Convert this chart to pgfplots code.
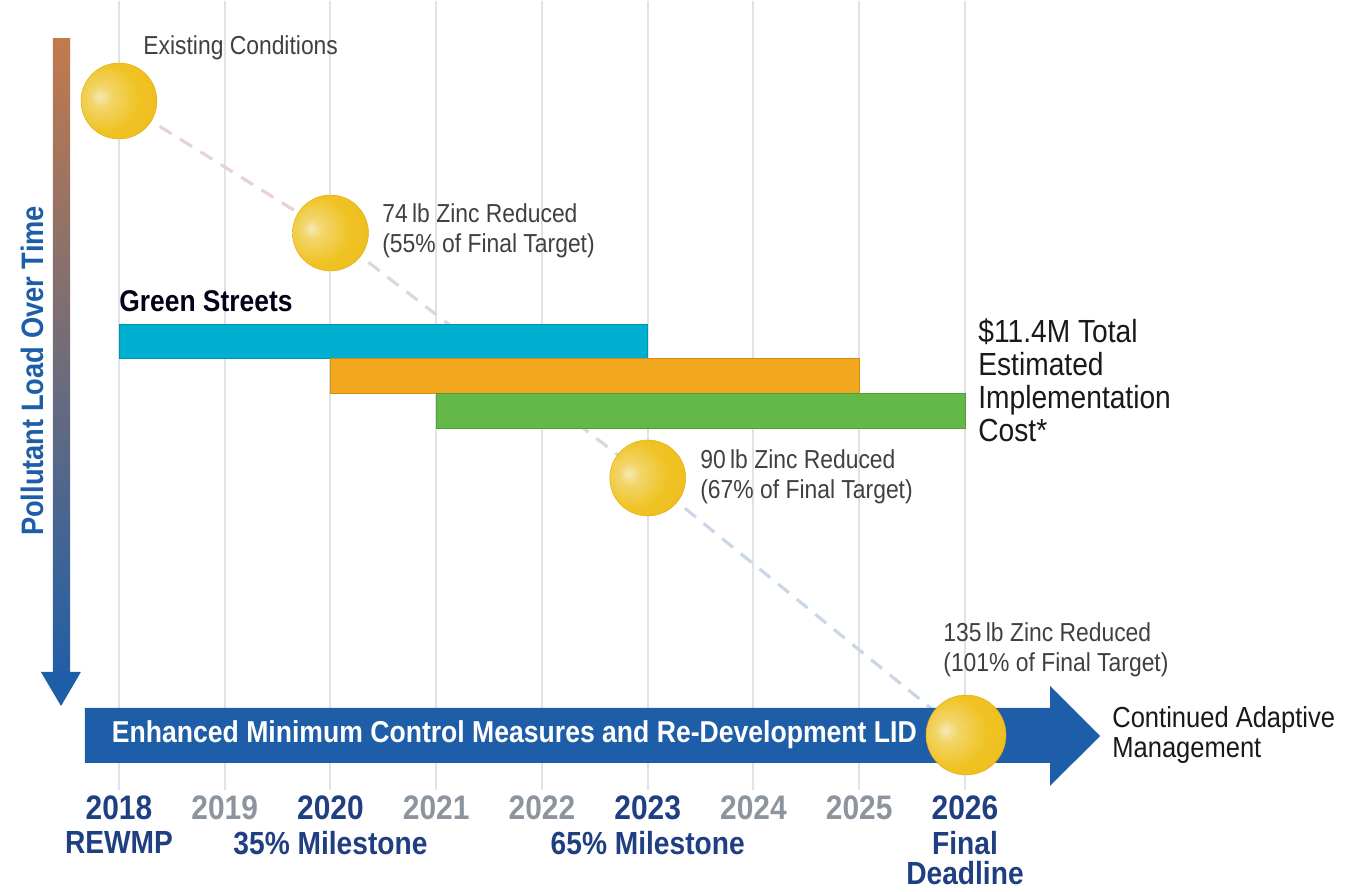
\documentclass[border=0pt]{standalone}
\usepackage{fontspec}
\setmainfont{Liberation Sans}[FakeStretch=0.88]
\usepackage{pgfplots}
\pgfplotsset{compat=1.18}

\definecolor{gridc}{HTML}{DFE2E7}
\definecolor{barcyan}{HTML}{00AFD0}
\definecolor{barorange}{HTML}{F2A81E}
\definecolor{bargreen}{HTML}{63B847}
\definecolor{arrowblue}{HTML}{1E5EA8}
\definecolor{topbrown}{HTML}{C27A4C}
\definecolor{navy}{HTML}{1F3F82}
\definecolor{yeargray}{HTML}{8C959D}
\definecolor{notec}{HTML}{404040}
\definecolor{dash1}{HTML}{E8D3D4}
\definecolor{dash2}{HTML}{D8D9DD}
\definecolor{dash3}{HTML}{CAD7E7}
\definecolor{ballhi}{HTML}{F6E9B8}
\definecolor{ballsoft}{HTML}{F2D56A}
\definecolor{ballmid}{HTML}{F0C324}
\definecolor{balledge}{HTML}{E2A806}

\pgfdeclareradialshading{zball}{\pgfpoint{-13bp}{3bp}}{color(0bp)=(ballhi); color(7bp)=(ballsoft); color(22bp)=(ballmid); color(50bp)=(ballmid!55!balledge); color(64bp)=(balledge); color(80bp)=(balledge)}
\pgfdeclareplotmark{zball}{%
  \pgfpathcircle{\pgfpointorigin}{\pgfplotmarksize}%
  \pgfshadepath{zball}{0}%
  \pgfusepath{stroke}}

\newcommand{\notefont}{\fontsize{13}{15}\selectfont}
\newcommand{\yearfont}{\fontsize{17}{18}\selectfont\bfseries}

\begin{document}
\begin{tikzpicture}
\begin{axis}[
  width=680.5pt, height=444.5pt, scale only axis,
  xmin=2016.875, xmax=2029.745, ymin=0, ymax=889,
  hide axis, clip=false,
]
\path (rel axis cs:0,0) rectangle (rel axis cs:1,1);

% year grid
\pgfplotsinvokeforeach{2018,...,2026}{
  \addplot[gridc, line width=1pt] coordinates {(#1,100) (#1,889)};
}

% pollutant load trend (dashed)
\addplot[dash1, line width=1.6pt, dash pattern=on 7pt off 5pt] coordinates {(2018,789) (2020,657)};
\addplot[dash2, line width=1.6pt, dash pattern=on 7pt off 5pt] coordinates {(2020,657) (2023,412)};
\addplot[dash3, line width=1.6pt, dash pattern=on 7pt off 5pt] coordinates {(2023,412) (2026,154)};

% program bars
\addplot[fill=barcyan, draw=barcyan!85!black, line width=0.3pt] coordinates {(2018,532) (2023,532) (2023,566) (2018,566)} -- cycle;
\addplot[fill=barorange, draw=barorange!85!black, line width=0.3pt] coordinates {(2020,497) (2025,497) (2025,532) (2020,532)} -- cycle;
\addplot[fill=bargreen, draw=bargreen!85!black, line width=0.3pt] coordinates {(2021,462) (2026,462) (2026,497) (2021,497)} -- cycle;

% left arrow
\shade[top color=topbrown, bottom color=arrowblue] (axis cs:2017.376,205) rectangle (axis cs:2017.537,851);
\fill[arrowblue] (axis cs:2017.262,218) -- (axis cs:2017.640,218) -- (axis cs:2017.452,184) -- cycle;
\node[rotate=90, text=arrowblue, font=\fontsize{15.5}{18}\selectfont\bfseries] at (axis cs:2017.177,519) {Pollutant Load Over Time};

% MCM arrow
\addplot[fill=arrowblue, draw=none] coordinates {(2017.678,127) (2026.804,127) (2026.804,104) (2027.277,154) (2026.804,204) (2026.804,182) (2017.678,182)} -- cycle;
\node[anchor=west, inner sep=0pt, text=white, font=\fontsize{15.1}{18}\selectfont\bfseries] at (axis cs:2017.93,155) {Enhanced Minimum Control Measures and Re-Development LID};

% milestones
\addplot[only marks, mark=zball, mark size=19pt, mark options={draw=balledge, line width=0.2pt}] coordinates {(2018,789) (2020,657) (2023,412)};
\addplot[only marks, mark=zball, mark size=20pt, mark options={draw=balledge, line width=0.2pt}] coordinates {(2026.01,155)};

% annotations
\tikzset{note/.style={anchor=west, align=left, inner sep=0pt, text=notec, font=\notefont}}
\node[note] at (axis cs:2018.227,842) {Existing Conditions};
\node[note] at (axis cs:2020.487,659) {74\,lb Zinc Reduced\\(55\% of Final Target)};
\node[note] at (axis cs:2023.494,413) {90\,lb Zinc Reduced\\(67\% of Final Target)};
\node[note] at (axis cs:2025.792,240) {135\,lb Zinc Reduced\\(101\% of Final Target)};
\node[anchor=base west, inner sep=0pt, text=black!90!blue, font=\fontsize{15}{18}\selectfont\bfseries] at (axis cs:2018,578) {Green Streets};
\node[anchor=west, align=left, inner sep=0pt, text=black!90, font=\fontsize{16}{16.5}\selectfont] at (axis cs:2026.123,510) {\$11.4M Total\\Estimated\\Implementation\\Cost*};
\node[anchor=west, align=left, inner sep=0pt, text=black!90, font=\fontsize{14.5}{15}\selectfont] at (axis cs:2027.39,155) {Continued Adaptive\\Management};

% year labels
\pgfplotsinvokeforeach{2018,2020,2023,2026}{
  \node[text=navy, font=\yearfont] at (axis cs:#1,82) {#1};
}
\pgfplotsinvokeforeach{2019,2021,2022,2024,2025}{
  \node[text=yeargray, font=\yearfont] at (axis cs:#1,82) {#1};
}
\node[text=navy, font=\fontsize{16}{18}\selectfont\bfseries] at (axis cs:2018,47) {REWMP};
\node[text=navy, font=\fontsize{16}{18}\selectfont\bfseries] at (axis cs:2020,47) {35\% Milestone};
\node[text=navy, font=\fontsize{16}{18}\selectfont\bfseries] at (axis cs:2023,47) {65\% Milestone};
\node[text=navy, font=\fontsize{16}{15}\selectfont\bfseries, align=center] at (axis cs:2026,32) {Final\\Deadline};
\end{axis}
\end{tikzpicture}
\end{document}
